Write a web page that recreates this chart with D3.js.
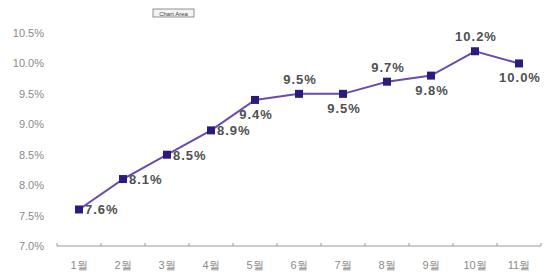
<!DOCTYPE html>
<html>
<head>
<meta charset="utf-8">
<script src="https://cdn.jsdelivr.net/npm/d3@7"></script>
<style>
  body { margin: 0; background: #fff; }
  svg { display: block; font-family: "Liberation Sans", Arial, sans-serif; }
</style>
</head>
<body>
<div id="chart"></div>
<script>
const months = ['1월', '2월', '3월', '4월', '5월', '6월', '7월', '8월', '9월', '10월', '11월'];
const rates = [7.6, 8.1, 8.5, 8.9, 9.4, 9.5, 9.5, 9.7, 9.8, 10.2, 10.0];
const yTicks = [7.0, 7.5, 8.0, 8.5, 9.0, 9.5, 10.0, 10.5];
// where each value label sits relative to its marker
const labelPos = ['right', 'right', 'right', 'right', 'below', 'above', 'below', 'above', 'below', 'above', 'below'];

const width = 546, height = 275;
const svg = d3.select('#chart').append('svg').attr('width', width).attr('height', height);

const x = d3.scaleBand().domain(months).range([57, 541]);
const y = d3.scaleLinear().domain([7.0, 10.5]).range([246, 33]);

// y axis labels only (no line)
svg.append('g')
  .selectAll('text')
  .data(yTicks)
  .enter()
  .append('text')
  .attr('x', 44)
  .attr('y', d => y(d) + 4)
  .attr('text-anchor', 'end')
  .attr('fill', '#8a8a8a')
  .attr('font-size', 11)
  .text(d => d.toFixed(1) + '%');

// x axis
const xAxis = svg.append('g').attr('transform', 'translate(0,246)');
xAxis.append('line').attr('x1', 57).attr('x2', 541).attr('stroke', '#9a9a9a');
xAxis.selectAll('.tk')
  .data(months.concat(['end']))
  .enter()
  .append('line')
  .attr('x1', (d, i) => 57 + i * x.step())
  .attr('x2', (d, i) => 57 + i * x.step())
  .attr('y1', -3).attr('y2', 0)
  .attr('stroke', '#9a9a9a');
xAxis.selectAll('.lb')
  .data(months)
  .enter()
  .append('text')
  .attr('x', d => x(d) + x.bandwidth() / 2)
  .attr('y', 23)
  .attr('text-anchor', 'middle')
  .attr('fill', '#8a8a8a')
  .attr('font-size', 11)
  .text(d => d);

// chart area tag
const tag = svg.append('g').attr('transform', 'translate(153,9)');
tag.append('rect').attr('width', 41).attr('height', 8).attr('fill', '#f4f4f4').attr('stroke', '#777').attr('stroke-width', 0.8);
tag.append('text').attr('x', 20.5).attr('y', 6.5).attr('text-anchor', 'middle').attr('font-size', 6).attr('fill', '#444').text('Chart Area');

const cx = (d, i) => x(months[i]) + x.bandwidth() / 2;

svg.append('path')
  .datum(rates)
  .attr('fill', 'none')
  .attr('stroke', '#6a4cb0')
  .attr('stroke-width', 2)
  .attr('d', d3.line().x(cx).y(d => y(d)));

svg.selectAll('.pt')
  .data(rates)
  .enter()
  .append('rect')
  .attr('x', (d, i) => cx(d, i) - 4)
  .attr('y', d => y(d) - 4)
  .attr('width', 8)
  .attr('height', 8)
  .attr('fill', '#2b1b7a');

svg.selectAll('.vl')
  .data(rates)
  .enter()
  .append('text')
  .attr('x', (d, i) => labelPos[i] === 'right' ? cx(d, i) + 6 : cx(d, i) + 1)
  .attr('y', (d, i) => labelPos[i] === 'right' ? y(d) + 5 : labelPos[i] === 'above' ? y(d) - 10 : y(d) + 19)
  .attr('text-anchor', (d, i) => labelPos[i] === 'right' ? 'start' : 'middle')
  .attr('fill', '#505050')
  .attr('font-size', 13)
  .attr('font-weight', 'bold')
  .attr('letter-spacing', 1)
  .text(d => d.toFixed(1) + '%');
</script>
</body>
</html>
